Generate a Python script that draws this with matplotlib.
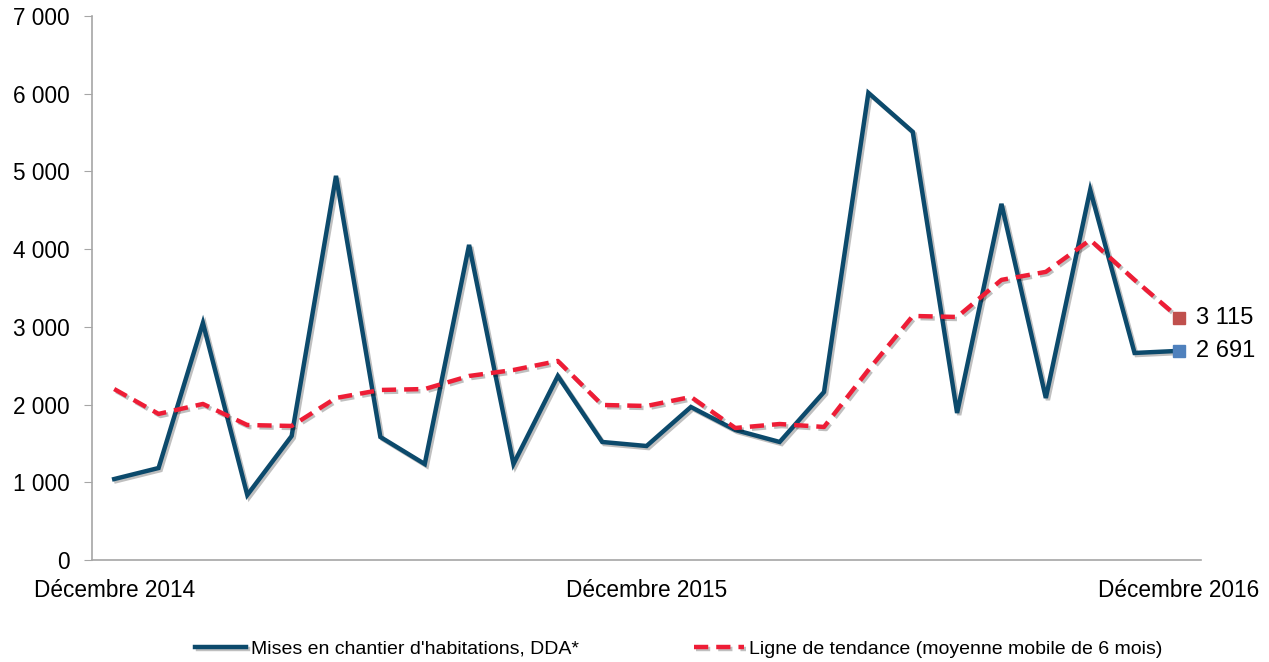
import matplotlib.pyplot as plt
import matplotlib.patheffects as pe
import numpy as np

plt.rcParams['font.family'] = ['Liberation Sans', 'DejaVu Sans']

# Décembre 2014 -> Décembre 2016, mensuel
mois = list(range(25))
tick_pos = [0, 12, 24]
tick_labels = ["Décembre 2014", "Décembre 2015", "Décembre 2016"]

mises_chantier = [1042, 1184, 3050, 837, 1596, 4942, 1583, 1235, 4054, 1235,
                  2368, 1519, 1467, 1969, 1673, 1519, 2162, 6010, 5508, 1892,
                  4582, 2085, 4762, 2664, 2691]
tendance = [2200, 1880, 2008, 1737, 1725, 2085, 2188, 2200, 2368, 2445,
            2561, 1995, 1982, 2098, 1699, 1750, 1712, 2445, 3140, 3127,
            3604, 3707, 4118, 3604, 3115]

bleu = "#0C4A6C"
rouge = "#EE1D36"
shadow = [pe.SimpleLineShadow(offset=(1.5, -1.5), alpha=0.25), pe.Normal()]

fig = plt.figure(figsize=(12.69, 6.62), dpi=100)
ax = fig.add_axes([0.0725, 0.154, 0.874, 0.822])

ax.plot(mois, mises_chantier, color=bleu, lw=3.2, solid_joinstyle="miter",
        label="Mises en chantier d'habitations, DDA*", path_effects=shadow)
ax.plot(mois, tendance, color=rouge, lw=3.2, dashes=(3.2, 1.8),
        label="Ligne de tendance (moyenne mobile de 6 mois)", path_effects=shadow)

# points finaux
ax.plot(mois[-1], tendance[-1], marker="s", ms=8, color="#C0504D", ls="none")
ax.plot(mois[-1], mises_chantier[-1], marker="s", ms=8, color="#4F81BD", ls="none")
ax.annotate(f"{tendance[-1]:,}".replace(",", " "), (mois[-1], tendance[-1]),
            xytext=(12, 0), textcoords="offset points", va="center", fontsize=17)
ax.annotate(f"{mises_chantier[-1]:,}".replace(",", " "), (mois[-1], mises_chantier[-1]),
            xytext=(12, 0), textcoords="offset points", va="center", fontsize=17)

ax.set_xlim(-0.5, 24.5)
ax.set_ylim(0, 7000)
ax.set_yticks(range(0, 7001, 1000))
ax.set_yticklabels([f"{v:,}".replace(",", " ") for v in range(0, 7001, 1000)], fontsize=16.3)
ax.set_xticks(tick_pos)
ax.set_xticklabels(tick_labels, fontsize=16.3)
ax.tick_params(axis="x", length=0, pad=14)
ax.tick_params(axis="y", length=6, color="#A6A6A6", pad=10)

for s in ["top", "right"]:
    ax.spines[s].set_visible(False)
for s in ["left", "bottom"]:
    ax.spines[s].set_color("#A6A6A6")
    ax.spines[s].set_linewidth(1.2)

fig.legend(loc="lower center", bbox_to_anchor=(0.535, -0.02), ncol=2, frameon=False,
           fontsize=14, handlelength=2.6, handletextpad=0.25, columnspacing=5.9)

fig.savefig("out.png", dpi=100)
